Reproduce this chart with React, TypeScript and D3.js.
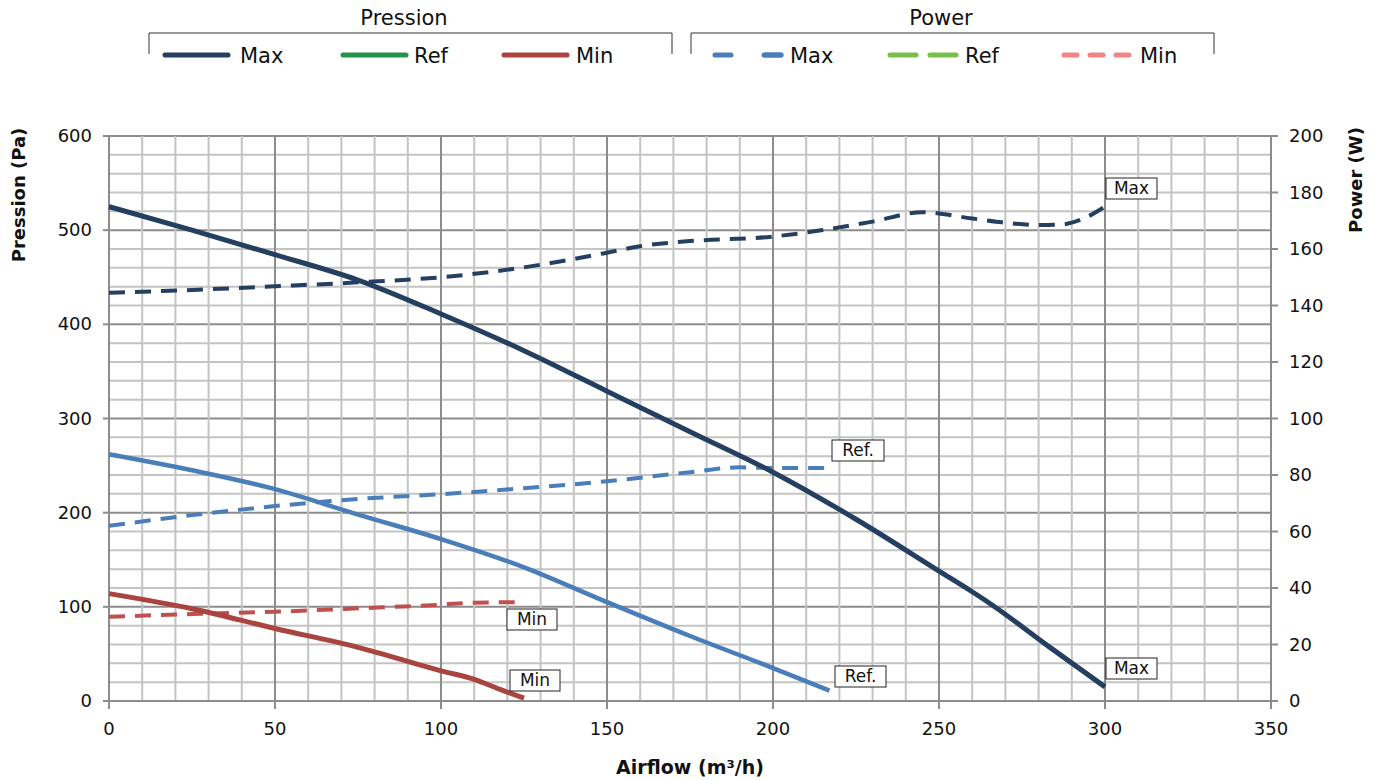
import React from "react";
import * as d3 from "d3";

const airflowTicks = [0, 50, 100, 150, 200, 250, 300, 350];
const pressureTicks = [0, 100, 200, 300, 400, 500, 600];
const powerTicks = [0, 20, 40, 60, 80, 100, 120, 140, 160, 180, 200];

const maxPressureX = [0, 25, 50, 75, 100, 125, 150, 175, 200, 225, 250, 260, 266, 283, 300];
const maxPressureY = [525, 500, 474, 447, 411, 372, 329, 286, 243, 193, 138, 116, 102, 58, 15];
const refPressureX = [0, 25, 50, 75, 100, 125, 150, 175, 200, 217];
const refPressureY = [262, 245, 225, 198, 172, 142, 105, 69, 35, 11];
const minPressureX = [0, 25, 50, 75, 100, 110, 118, 125];
const minPressureY = [114, 98, 77, 57, 32, 23, 12, 3];

const maxPowerX = [0, 25, 50, 75, 100, 125, 150, 160, 175, 200, 215, 230, 245, 260, 270, 280, 287, 293, 300];
const maxPowerY = [144.5, 145.5, 146.8, 148.2, 150, 153.5, 158.7, 161, 162.8, 164.4, 166.7, 169.7, 173, 170.8, 169.3, 168.5, 168.7, 170.5, 175];
const refPowerX = [0, 25, 50, 75, 100, 125, 150, 175, 190, 200, 217];
const refPowerY = [62, 65.8, 69, 71.5, 73.2, 75.3, 77.8, 81, 82.7, 82.5, 82.5];
const minPowerX = [0, 25, 50, 75, 100, 110, 125];
const minPowerY = [29.8, 30.8, 31.6, 32.8, 34.1, 34.8, 35];

const C_MAX = "#243f60";
const C_REF = "#4a7ebb";
const C_MIN = "#a9443f";
const C_MINP = "#c0504d";
const C_GREEN = "#24944a";
const C_LGREEN = "#78c04a";
const C_PINK = "#f08683";

const FONT = "'DejaVu Sans', sans-serif";

export default function App() {
  const L = 109, R = 1271, T = 136, B = 701;
  const x = d3.scaleLinear().domain([0, 350]).range([L, R]);
  const yP = d3.scaleLinear().domain([0, 600]).range([B, T]);
  const yW = d3.scaleLinear().domain([0, 200]).range([B, T]);

  const lineP = d3.line<[number, number]>().x(d => x(d[0])).y(d => yP(d[1])).curve(d3.curveMonotoneX);
  const lineW = d3.line<[number, number]>().x(d => x(d[0])).y(d => yW(d[1])).curve(d3.curveMonotoneX);
  const zip = (a: number[], b: number[]) => a.map((v, i) => [v, b[i]] as [number, number]);

  const vMinor = d3.range(0, 351, 10);
  const hMinor = d3.range(0, 601, 20);

  const label = (cx: number, cy: number, text: string, w: number) => (
    <g key={text + cx}>
      <rect x={cx} y={cy} width={w} height={21} fill="#fff" stroke="#222" strokeWidth={1} />
      <text x={cx + w / 2} y={cy + 16} textAnchor="middle" fontSize={17} fontFamily={FONT} fill="#111">{text}</text>
    </g>
  );

  const legendItem = (x1: number, x2: number, color: string, dash: string | undefined, text: string, tx: number) => (
    <g key={text + x1}>
      <line x1={x1} x2={x2} y1={55} y2={55} stroke={color} strokeWidth={5} strokeLinecap="round" strokeDasharray={dash} />
      <text x={tx} y={63} fontSize={21} fontFamily={FONT} fill="#111">{text}</text>
    </g>
  );

  return (
    <svg width={1381} height={780} style={{ position: "absolute", left: 0, top: 0, background: "#fff" }}>
      {hMinor.map(v => (
        <line key={"h" + v} x1={L} x2={R} y1={yP(v)} y2={yP(v)} stroke={v % 100 === 0 ? "#8c8c8c" : "#c4c4c4"} strokeWidth={2} />
      ))}
      {vMinor.map(v => (
        <line key={"v" + v} x1={x(v)} x2={x(v)} y1={T} y2={B} stroke={v % 50 === 0 ? "#8c8c8c" : "#c4c4c4"} strokeWidth={2} />
      ))}
      <line x1={L} x2={L} y1={T} y2={B + 8} stroke="#8c8c8c" strokeWidth={2} />
      <line x1={R} x2={R} y1={T} y2={B + 8} stroke="#8c8c8c" strokeWidth={2} />
      <line x1={L - 6} x2={R + 6} y1={B} y2={B} stroke="#8c8c8c" strokeWidth={2} />
      {pressureTicks.map(v => (
        <g key={"pt" + v}>
          <line x1={L - 6} x2={L} y1={yP(v)} y2={yP(v)} stroke="#8c8c8c" strokeWidth={2} />
          <text x={92} y={yP(v) + 6} textAnchor="end" fontSize={18} fontFamily={FONT} fill="#111">{v}</text>
        </g>
      ))}
      {powerTicks.map(v => (
        <g key={"wt" + v}>
          <line x1={R} x2={R + 7} y1={yW(v)} y2={yW(v)} stroke="#8c8c8c" strokeWidth={2} />
          <text x={1289} y={yW(v) + 6} textAnchor="start" fontSize={18} fontFamily={FONT} fill="#111">{v}</text>
        </g>
      ))}
      {airflowTicks.map(v => (
        <g key={"xt" + v}>
          <line x1={x(v)} x2={x(v)} y1={B} y2={B + 8} stroke="#8c8c8c" strokeWidth={2} />
          <text x={x(v)} y={735} textAnchor="middle" fontSize={18} fontFamily={FONT} fill="#111">{v}</text>
        </g>
      ))}
      <text transform={`translate(25,195) rotate(-90)`} textAnchor="middle" fontSize={18} fontWeight="bold" fontFamily={FONT} fill="#111">Pression (Pa)</text>
      <text transform={`translate(1362,180) rotate(-90)`} textAnchor="middle" fontSize={18} fontWeight="bold" fontFamily={FONT} fill="#111">Power (W)</text>
      <text x={690} y={774} textAnchor="middle" fontSize={19} fontWeight="bold" fontFamily={FONT} fill="#111">Airflow (m³/h)</text>

      <path d={lineW(zip(minPowerX, minPowerY)) || ""} fill="none" stroke={C_MINP} strokeWidth={4} strokeDasharray="16 10" />
      <path d={lineW(zip(refPowerX, refPowerY)) || ""} fill="none" stroke={C_REF} strokeWidth={4} strokeDasharray="16 10" />
      <path d={lineW(zip(maxPowerX, maxPowerY)) || ""} fill="none" stroke={C_MAX} strokeWidth={4} strokeDasharray="16 10" />
      <path d={lineP(zip(minPressureX, minPressureY)) || ""} fill="none" stroke={C_MIN} strokeWidth={5} />
      <path d={lineP(zip(refPressureX, refPressureY)) || ""} fill="none" stroke={C_REF} strokeWidth={4.5} />
      <path d={lineP(zip(maxPressureX, maxPressureY)) || ""} fill="none" stroke={C_MAX} strokeWidth={5} />

      {label(1106, 178, "Max", 51)}
      {label(832, 440, "Ref.", 52)}
      {label(507, 609, "Min", 50)}
      {label(835, 666, "Ref.", 51)}
      {label(510, 670, "Min", 50)}
      {label(1106, 658, "Max", 51)}

      <text x={404} y={25} textAnchor="middle" fontSize={21} fontFamily={FONT} fill="#111">Pression</text>
      <path d="M149,54 V33 H672 V54" fill="none" stroke="#333" strokeWidth={1} />
      {legendItem(165, 228, C_MAX, undefined, "Max", 240)}
      {legendItem(343, 406, C_GREEN, undefined, "Ref", 414)}
      {legendItem(504, 567, C_MIN, undefined, "Min", 576)}
      <text x={941} y={25} textAnchor="middle" fontSize={21} fontFamily={FONT} fill="#111">Power</text>
      <path d="M691,54 V33 H1214 V54" fill="none" stroke="#333" strokeWidth={1} />
      {legendItem(715, 781, C_REF, "16 34", "Max", 790)}
      {legendItem(890, 956, C_LGREEN, "26 14", "Ref", 965)}
      {legendItem(1064, 1132, C_PINK, "13 13", "Min", 1140)}
      <line x1={764} x2={781} y1={55} y2={55} stroke={C_REF} strokeWidth={5} strokeLinecap="round" />
    </svg>
  );
}
